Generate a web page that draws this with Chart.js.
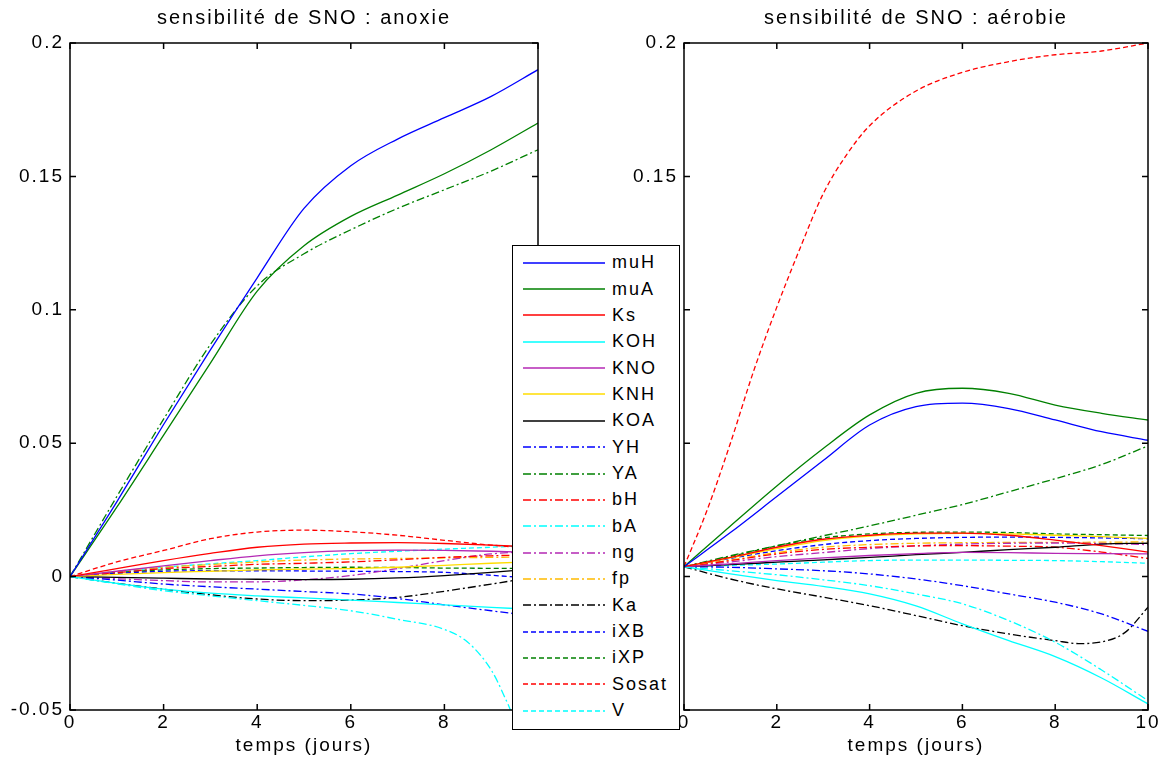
<!DOCTYPE html>
<html lang="fr">
<head>
<meta charset="utf-8">
<title>sensibilité de SNO</title>
<script src="https://cdn.jsdelivr.net/npm/chart.js@4.4.1/dist/chart.umd.min.js"></script>
<style>
  html, body { margin: 0; padding: 0; background: #fff; }
  body { width: 1170px; height: 761px; position: relative; overflow: hidden;
         font-family: "Liberation Sans", Arial, sans-serif; }
  .graphe { position: absolute; top: 0; height: 761px; }
  #boite1 { left: 0; width: 560px; }
  #boite2 { left: 600px; width: 570px; }
  #legende { position: absolute; left: 512px; top: 245px; width: 166px; height: 483px;
             border: 1px solid #000; background: #fff; z-index: 5; }
  .item { position: absolute; left: 10px; height: 20px; display: flex; align-items: center;
          font-size: 18px; letter-spacing: 2px; color: #000; white-space: nowrap; }
  .item svg { margin-right: 7px; }
</style>
</head>
<body>
<div class="graphe" id="boite1"><canvas id="graphAnoxie"></canvas></div>
<div class="graphe" id="boite2"><canvas id="graphAerobie"></canvas></div>
<div id="legende"></div>

<script>
// temps (jours)
const tps = [0, 1, 2, 3, 4, 5, 6, 7, 8, 9, 10];
const tpsBA_ano = [0, 1, 2, 3, 4, 5, 6, 7, 8, 8.5, 9, 9.25, 9.5, 10];
const tpsSosat_aer = [0, 0.5, 1, 1.5, 2, 2.5, 3, 3.5, 4, 5, 6, 7, 8, 9, 10];
const tpsKa_aer = [0, 1, 2, 3, 4, 5, 6, 7, 8, 8.5, 9, 9.5, 10];

const xTicks = [0, 2, 4, 6, 8, 10];
const yTicks = [-0.05, 0, 0.05, 0.1, 0.15, 0.2];

const noms = ['muH', 'muA', 'Ks', 'KOH', 'KNO', 'KNH', 'KOA', 'YH', 'YA', 'bH', 'bA',
              'ng', 'fp', 'Ka', 'iXB', 'iXP', 'Sosat', 'V'];

// --- anoxie ---
const muH_ano   = [0, 0.028, 0.057, 0.085, 0.112, 0.138, 0.154, 0.164, 0.172, 0.180, 0.190];
const muA_ano   = [0, 0.026, 0.053, 0.080, 0.107, 0.124, 0.135, 0.143, 0.151, 0.160, 0.170];
const Ks_ano    = [0, 0.003, 0.006, 0.0087, 0.011, 0.0122, 0.0126, 0.0127, 0.0124, 0.0118, 0.011];
const KOH_ano   = [0, -0.0025, -0.0047, -0.0062, -0.0072, -0.008, -0.0088, -0.0097, -0.0106, -0.0115, -0.0124];
const KNO_ano   = [0, 0.002, 0.004, 0.006, 0.0078, 0.009, 0.0097, 0.0099, 0.0098, 0.0095, 0.009];
const KNH_ano   = [0, 0.0008, 0.0015, 0.002, 0.0025, 0.0028, 0.003, 0.0035, 0.0042, 0.005, 0.0056];
const KOA_ano   = [0, -0.0003, -0.0006, -0.0009, -0.001, -0.0011, -0.001, -0.0005, 0.0004, 0.0016, 0.003];
const YH_ano    = [0, -0.0013, -0.0028, -0.0038, -0.0047, -0.0056, -0.0065, -0.0082, -0.0106, -0.0128, -0.015];
const YA_ano    = [0, 0.030, 0.059, 0.087, 0.109, 0.121, 0.130, 0.138, 0.145, 0.152, 0.160];
const bH_ano    = [0, 0.0015, 0.003, 0.0038, 0.0046, 0.005, 0.0055, 0.0063, 0.0072, 0.0078, 0.0082];
const bA_ano    = [0, -0.0027, -0.0053, -0.0072, -0.009, -0.0108, -0.0128, -0.016, -0.0198, -0.0246, -0.035, -0.0437, -0.055, -0.1];
const ng_ano    = [0, -0.0008, -0.0015, -0.002, -0.002, -0.0012, 0.0004, 0.003, 0.006, 0.0085, 0.0095];
const fp_ano    = [0, 0.002, 0.0035, 0.0045, 0.0055, 0.0062, 0.0066, 0.0068, 0.007, 0.0072, 0.0074];
const Ka_ano    = [0, -0.0025, -0.0047, -0.0068, -0.0084, -0.009, -0.0088, -0.0078, -0.0055, -0.0028, 0];
const iXB_ano   = [0, 0.0012, 0.002, 0.0022, 0.0022, 0.0021, 0.002, 0.0019, 0.0016, 0.0005, -0.0008];
const iXP_ano   = [0, 0.0015, 0.0025, 0.003, 0.0032, 0.0034, 0.0035, 0.0034, 0.0032, 0.0031, 0.003];
const Sosat_ano = [0, 0.0055, 0.0098, 0.0142, 0.0167, 0.0174, 0.0168, 0.0155, 0.0136, 0.0118, 0.0105];
const V_ano     = [0, 0.0017, 0.0035, 0.0048, 0.006, 0.0074, 0.0086, 0.0095, 0.0103, 0.011, 0.0118];

// --- aérobie ---
const muH_aer   = [0.0037, 0.0165, 0.030, 0.0435, 0.0568, 0.0637, 0.065, 0.063, 0.0587, 0.0543, 0.0511];
const muA_aer   = [0.0037, 0.019, 0.034, 0.048, 0.0606, 0.0687, 0.0706, 0.0687, 0.0643, 0.0612, 0.0587];
const Ks_aer    = [0.0037, 0.0072, 0.011, 0.014, 0.0155, 0.0163, 0.0163, 0.0155, 0.0137, 0.0116, 0.0092];
const KOH_aer   = [0.0037, 0.001, -0.0015, -0.0037, -0.0065, -0.011, -0.0177, -0.024, -0.030, -0.038, -0.0477];
const KNO_aer   = [0.0037, 0.0048, 0.006, 0.007, 0.0079, 0.0086, 0.0091, 0.009, 0.0087, 0.0086, 0.0085];
const KNH_aer   = [0.0037, 0.007, 0.0105, 0.0135, 0.0152, 0.016, 0.0162, 0.016, 0.0155, 0.015, 0.0143];
const KOA_aer   = [0.0037, 0.0045, 0.0054, 0.0063, 0.0072, 0.0082, 0.0091, 0.0101, 0.011, 0.0122, 0.0125];
const YH_aer    = [0.0037, 0.0035, 0.0029, 0.0022, 0.001, -0.0009, -0.0034, -0.0065, -0.0096, -0.014, -0.0205];
const YA_aer    = [0.0037, 0.0078, 0.0116, 0.0153, 0.019, 0.023, 0.027, 0.0318, 0.0367, 0.042, 0.049];
const bH_aer    = [0.0037, 0.006, 0.0085, 0.0102, 0.011, 0.0115, 0.0116, 0.0114, 0.011, 0.0092, 0.0068];
const bA_aer    = [0.0037, 0.0022, 0.0007, -0.0012, -0.0034, -0.0065, -0.0102, -0.0165, -0.0246, -0.035, -0.0465];
const ng_aer    = [0.0037, 0.0055, 0.0075, 0.009, 0.0105, 0.0115, 0.0122, 0.0125, 0.0126, 0.0124, 0.012];
const fp_aer    = [0.0037, 0.0062, 0.009, 0.011, 0.012, 0.0125, 0.0127, 0.0128, 0.0128, 0.0129, 0.013];
const Ka_aer    = [0.0037, -0.0009, -0.0046, -0.0077, -0.0109, -0.0146, -0.0184, -0.0215, -0.024, -0.0251, -0.0245, -0.021, -0.0115];
const iXB_aer   = [0.0037, 0.0068, 0.0097, 0.012, 0.0135, 0.0143, 0.0147, 0.0148, 0.0147, 0.0145, 0.0142];
const iXP_aer   = [0.0037, 0.0075, 0.0115, 0.0145, 0.016, 0.0166, 0.0167, 0.0165, 0.016, 0.0157, 0.0154];
const Sosat_aer = [0.0037, 0.025, 0.05, 0.077, 0.101, 0.123, 0.1435, 0.158, 0.169, 0.182, 0.189, 0.193, 0.1956, 0.197, 0.2];
const V_aer     = [0.0037, 0.0042, 0.0047, 0.0054, 0.006, 0.0062, 0.0062, 0.0061, 0.006, 0.0056, 0.005];

const seriesAnoxie = [muH_ano, muA_ano, Ks_ano, KOH_ano, KNO_ano, KNH_ano, KOA_ano, YH_ano, YA_ano,
                      bH_ano, bA_ano, ng_ano, fp_ano, Ka_ano, iXB_ano, iXP_ano, Sosat_ano, V_ano];
const seriesAerobie = [muH_aer, muA_aer, Ks_aer, KOH_aer, KNO_aer, KNH_aer, KOA_aer, YH_aer, YA_aer,
                       bH_aer, bA_aer, ng_aer, fp_aer, Ka_aer, iXB_aer, iXP_aer, Sosat_aer, V_aer];
const tempsAnoxie = { bA: tpsBA_ano };
const tempsAerobie = { Sosat: tpsSosat_aer, Ka: tpsKa_aer };

// styles
const couleurs = ['#0000ff', '#008000', '#ff0000', '#00ffff', '#b428b4', '#ffdd00', '#000000',
                  '#0000ff', '#008000', '#ff0000', '#00ffff', '#b428b4', '#ffbb00', '#000000',
                  '#0000ff', '#008000', '#ff0000', '#00ffff'];
const traits = ['-', '-', '-', '-', '-', '-', '-', '-.', '-.', '-.', '-.', '-.', '-.', '-.',
                '--', '--', '--', '--'];
const tirets = { '-': [], '-.': [8, 3, 2, 3], '--': [5, 3] };

const police = { family: "'Liberation Sans', Arial, sans-serif", size: 19, weight: 'normal' };

// cadre + graduations vers l'interieur (style matlab)
const cadre = {
    id: 'cadre',
    beforeDraw(chart) {
        chart.ctx.letterSpacing = '2px';
    },
    afterDatasetsDraw(chart) {
        const { ctx, chartArea: a, scales: { x, y } } = chart;
        ctx.save();
        ctx.strokeStyle = '#000';
        ctx.lineWidth = 1.5;
        ctx.strokeRect(a.left, a.top, a.right - a.left, a.bottom - a.top);
        ctx.beginPath();
        x.ticks.forEach(t => {
            const px = x.getPixelForValue(t.value);
            ctx.moveTo(px, a.bottom); ctx.lineTo(px, a.bottom - 6);
            ctx.moveTo(px, a.top); ctx.lineTo(px, a.top + 6);
        });
        y.ticks.forEach(t => {
            const py = y.getPixelForValue(t.value);
            ctx.moveTo(a.left, py); ctx.lineTo(a.left + 6, py);
            ctx.moveTo(a.right, py); ctx.lineTo(a.right - 6, py);
        });
        ctx.stroke();
        ctx.restore();
    },
};

function creerGraphe(id, titre, series, tempsSpec, largeurY) {
    const datasets = noms.map((nom, i) => {
        const t = tempsSpec[nom] || tps;
        return {
            label: nom,
            data: t.map((v, k) => ({ x: v, y: series[i][k] })),
            borderColor: couleurs[i],
            borderWidth: 1.3,
            borderDash: tirets[traits[i]],
            pointRadius: 0,
            cubicInterpolationMode: 'monotone',
            fill: false,
        };
    });

    return new Chart(document.getElementById(id), {
        type: 'line',
        data: { datasets },
        plugins: [cadre],
        options: {
            animation: false,
            responsive: true,
            maintainAspectRatio: false,
            layout: { padding: { left: 0, right: 22, top: 0, bottom: 0 } },
            plugins: {
                legend: { display: false },
                tooltip: { enabled: false },
                title: {
                    display: true,
                    text: titre,
                    fullSize: false,
                    color: '#000',
                    font: { family: police.family, size: 20, weight: 'normal' },
                    padding: { top: 6, bottom: 13 },
                },
            },
            scales: {
                x: {
                    type: 'linear',
                    min: 0,
                    max: 10,
                    afterBuildTicks: s => { s.ticks = xTicks.map(v => ({ value: v })); },
                    afterFit: s => { s.height = 51; },
                    grid: { display: false, drawTicks: false },
                    border: { display: false },
                    ticks: { color: '#000', font: police, padding: 1, maxRotation: 0, autoSkip: false },
                    title: { display: true, text: 'temps (jours)', color: '#000', font: police,
                             padding: { top: 0, bottom: 4 } },
                },
                y: {
                    min: -0.05,
                    max: 0.2,
                    afterBuildTicks: s => { s.ticks = yTicks.map(v => ({ value: v })); },
                    afterFit: s => { s.width = largeurY; },
                    grid: { display: false, drawTicks: false },
                    border: { display: false },
                    ticks: { color: '#000', font: police, padding: 6, callback: v => String(v) },
                },
            },
        },
    });
}

function creerLegende() {
    const leg = document.getElementById('legende');
    noms.forEach((nom, i) => {
        const div = document.createElement('div');
        div.className = 'item';
        div.style.top = (6.7 + i * 26.35) + 'px';
        const dash = tirets[traits[i]].join(',');
        div.innerHTML =
            '<svg width="82" height="10"><line x1="0" y1="5" x2="82" y2="5" stroke="' + couleurs[i] +
            '" stroke-width="1.3"' + (dash ? ' stroke-dasharray="' + dash + '"' : '') + '/></svg>' +
            '<span>' + nom + '</span>';
        leg.appendChild(div);
    });
}

document.addEventListener('DOMContentLoaded', () => {
    creerGraphe('graphAnoxie', 'sensibilité de SNO : anoxie', seriesAnoxie, tempsAnoxie, 70);
    creerGraphe('graphAerobie', 'sensibilité de SNO : aérobie', seriesAerobie, tempsAerobie, 84);
    creerLegende();
});
</script>
</body>
</html>
